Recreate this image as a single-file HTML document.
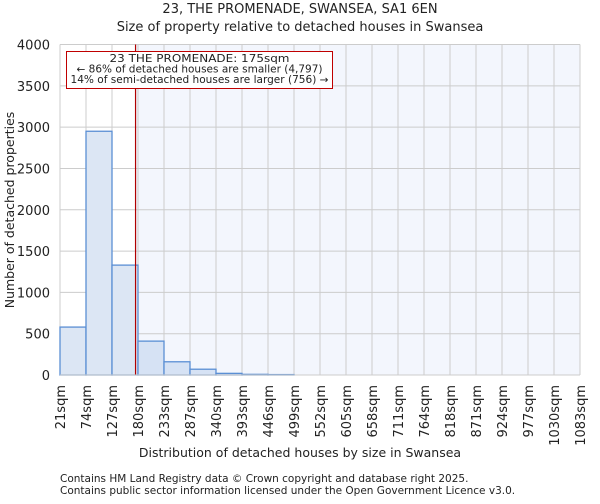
<!DOCTYPE html>
<html><head><meta charset="utf-8"><style>
body{margin:0;background:#fff;font-family:"DejaVu Sans","Liberation Sans",sans-serif;}
svg text{font-family:"DejaVu Sans","Liberation Sans",sans-serif;fill:#222}
</style></head><body>
<svg id="chart" width="600" height="500" xmlns="http://www.w3.org/2000/svg">
<text x="300" y="13" font-size="13" text-anchor="middle">23, THE PROMENADE, SWANSEA, SA1 6EN</text>
<text x="300" y="31" font-size="13" text-anchor="middle">Size of property relative to detached houses in Swansea</text>
<g id="plot"></g>
<text x="300" y="457" font-size="12.5" text-anchor="middle">Distribution of detached houses by size in Swansea</text>
<text transform="translate(14,210) rotate(-90)" font-size="12.5" text-anchor="middle" fill="#444">Number of detached properties</text>
<text x="60" y="482" font-size="10.5" fill="#444">Contains HM Land Registry data © Crown copyright and database right 2025.</text>
<text x="60" y="494" font-size="10.5" fill="#444">Contains public sector information licensed under the Open Government Licence v3.0.</text>
</svg>
<script>
const categories=["21sqm","74sqm","127sqm","180sqm","233sqm","287sqm","340sqm","393sqm","446sqm","499sqm","552sqm","605sqm","658sqm","711sqm","764sqm","818sqm","871sqm","924sqm","977sqm","1030sqm","1083sqm"];
const binStarts=[21,74,127,180,233,286,339,392,445,498,551,604,657,710,763,816,869,922,975,1028];
const counts=[580,2950,1330,410,160,70,20,8,5,0,0,0,0,0,0,0,0,0,0,0];
const yTicks=[0,500,1000,1500,2000,2500,3000,3500,4000];
const markerValue=175;
const xMin=21,xMax=1081,yMax=4000;
const L=60,R=580,T=44.5,B=375;
const NS="http://www.w3.org/2000/svg";
const g=document.getElementById('plot');
const X=v=>L+(v-xMin)/(xMax-xMin)*(R-L);
const Y=v=>B-v/yMax*(B-T);
function mk(t,a){const e=document.createElementNS(NS,t);for(const k in a)e.setAttribute(k,a[k]);g.appendChild(e);return e;}
const bg=mk('rect',{x:X(markerValue),y:T,width:R-X(markerValue),height:B-T,fill:'#f3f6fd'});


yTicks.forEach(t=>{const l=mk('line',{x1:L,x2:R,y1:Y(t),y2:Y(t),stroke:'#ccc','stroke-width':1});


const tx=mk('text',{x:L-10,y:Y(t)+5,'font-size':13,'text-anchor':'end'});tx.textContent=t;

});
const bw=53/(xMax-xMin)*(R-L);
categories.forEach((c,i)=>{const x=L+i*bw;const l=mk('line',{x1:x,x2:x,y1:T,y2:B,stroke:'#ccc','stroke-width':1});


const tx=mk('text',{transform:`translate(${x+5},${B+10}) rotate(-90)`,'font-size':13,'text-anchor':'end'});tx.textContent=c;

});
counts.forEach((v,i)=>{if(v<=0)return;const x0=X(binStarts[i]),x1=X(binStarts[i]+53);
const r=mk('rect',{x:x0,y:Y(v),width:x1-x0,height:B-Y(v),fill:x0<X(markerValue)?'#dce6f4':'#d6e2f4',stroke:'#5b8fd4','stroke-width':1.3});

});
const ml=mk('line',{x1:X(markerValue),x2:X(markerValue),y1:T,y2:B,stroke:'#b00000','stroke-width':1.2});


const box=mk('rect',{x:66.5,y:51.5,width:266,height:37,fill:'#fff',stroke:'#c00000','stroke-width':1});


["23 THE PROMENADE: 175sqm","← 86% of detached houses are smaller (4,797)","14% of semi-detached houses are larger (756) →"].forEach((s,i)=>{
const t=mk('text',{x:199.5,y:62+i*10.5,'font-size':10.3,'text-anchor':'middle',textLength:i==0?180:(i==1?246:258),lengthAdjust:'spacingAndGlyphs'});t.textContent=s;

});
const ax=mk('line',{x1:L,x2:R,y1:B,y2:B,stroke:'#ccc','stroke-width':1});


</script>
</body></html>
